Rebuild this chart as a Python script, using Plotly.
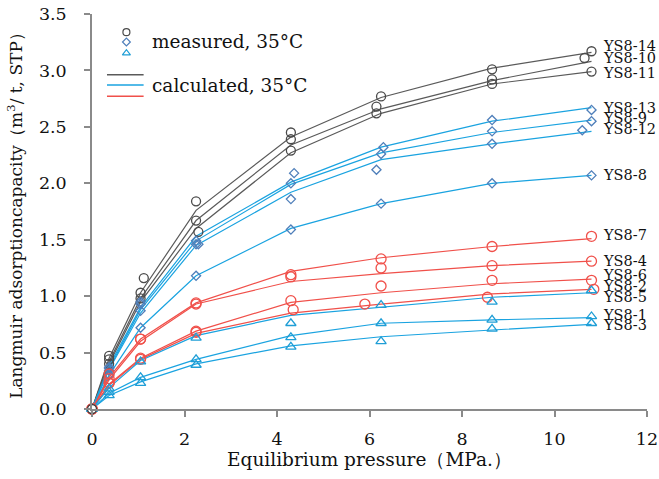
import plotly.graph_objects as go

# ---------------- data ----------------
series_names = ["YS8-14", "YS8-10", "YS8-11", "YS8-13", "YS8-9", "YS8-12", "YS8-8",
                "YS8-7", "YS8-4", "YS8-6", "YS8-2", "YS8-5", "YS8-1", "YS8-3"]
series_group = ["gray", "gray", "gray", "blue", "blue", "blue", "blue",
                "red", "red", "red", "red", "tri", "tri", "tri"]

pressure = [0, 0.37, 1.05, 2.25, 4.3, 6.25, 8.65, 10.8]

# calculated (Langmuir fit) values read at each pressure
calc_ys8_14 = [0, 0.45, 1.03, 1.76, 2.41, 2.76, 3.02, 3.16]
calc_ys8_10 = [0, 0.42, 0.98, 1.67, 2.34, 2.66, 2.91, 3.08]
calc_ys8_11 = [0, 0.40, 0.95, 1.60, 2.27, 2.62, 2.88, 2.99]
calc_ys8_13 = [0, 0.38, 0.90, 1.53, 2.01, 2.32, 2.55, 2.67]
calc_ys8_9 = [0, 0.36, 0.88, 1.49, 1.99, 2.27, 2.45, 2.56]
calc_ys8_12 = [0, 0.35, 0.85, 1.45, 1.92, 2.21, 2.35, 2.46]
calc_ys8_8 = [0, 0.30, 0.72, 1.18, 1.60, 1.82, 2.00, 2.07]
calc_ys8_7 = [0, 0.28, 0.62, 0.94, 1.22, 1.34, 1.44, 1.51]
calc_ys8_4 = [0, 0.26, 0.60, 0.93, 1.13, 1.20, 1.27, 1.31]
calc_ys8_6 = [0, 0.22, 0.45, 0.69, 0.945, 1.03, 1.11, 1.15]
calc_ys8_2 = [0, 0.21, 0.44, 0.67, 0.85, 0.93, 1.02, 1.06]
calc_ys8_5 = [0, 0.19, 0.43, 0.65, 0.83, 0.90, 0.99, 1.03]
calc_ys8_1 = [0, 0.14, 0.28, 0.44, 0.65, 0.76, 0.79, 0.81]
calc_ys8_3 = [0, 0.12, 0.24, 0.40, 0.56, 0.64, 0.70, 0.75]

# measured pressures (most series share the common grid)
p_meas_ys8_14 = [0, 0.37, 1.12, 2.25, 4.3, 6.25, 8.65, 10.8]
p_meas_ys8_10 = [0, 0.37, 1.05, 2.25, 4.3, 6.15, 8.65, 10.65]
p_meas_ys8_11 = [0, 0.37, 1.05, 2.3, 4.3, 6.15, 8.65, 10.8]
p_meas_ys8_13 = [0, 0.37, 1.05, 2.25, 4.37, 6.3, 8.65, 10.8]
p_meas_ys8_12 = [0, 0.37, 1.05, 2.3, 4.3, 6.15, 8.65, 10.6]
p_meas_ys8_2 = [0, 0.37, 1.05, 2.25, 4.35, 5.9, 8.55, 10.85]

# measured values
meas_ys8_14 = [0, 0.47, 1.16, 1.84, 2.45, 2.77, 3.01, 3.17]
meas_ys8_10 = [0, 0.44, 1.03, 1.67, 2.39, 2.68, 2.92, 3.11]
meas_ys8_11 = [0, 0.40, 0.98, 1.57, 2.29, 2.62, 2.88, 2.99]
meas_ys8_13 = [0, 0.37, 0.95, 1.49, 2.09, 2.32, 2.56, 2.65]
meas_ys8_9 = [0, 0.36, 0.93, 1.46, 2.00, 2.26, 2.46, 2.55]
meas_ys8_12 = [0, 0.34, 0.87, 1.46, 1.86, 2.12, 2.35, 2.47]
meas_ys8_8 = [0, 0.30, 0.72, 1.18, 1.59, 1.82, 2.00, 2.07]
meas_ys8_7 = [0, 0.31, 0.62, 0.94, 1.19, 1.33, 1.44, 1.53]
meas_ys8_4 = [0, 0.27, 0.62, 0.93, 1.17, 1.25, 1.27, 1.31]
meas_ys8_6 = [0, 0.23, 0.45, 0.69, 0.96, 1.09, 1.14, 1.14]
meas_ys8_2 = [0, 0.23, 0.44, 0.68, 0.88, 0.93, 0.99, 1.06]
meas_ys8_5 = [0, 0.18, 0.42, 0.63, 0.76, 0.92, 0.95, 1.05]
meas_ys8_1 = [0, 0.15, 0.28, 0.44, 0.635, 0.76, 0.79, 0.82]
meas_ys8_3 = [0, 0.12, 0.23, 0.39, 0.55, 0.60, 0.71, 0.76]

# series label positions (data units)
label_x = 11.0
label_y = [3.22, 3.11, 2.98, 2.67, 2.58, 2.48, 2.07,
           1.54, 1.31, 1.19, 1.09, 0.995, 0.83, 0.74]

x_ticks = [0, 2, 4, 6, 8, 10, 12]
y_ticks = [0.0, 0.5, 1.0, 1.5, 2.0, 2.5, 3.0, 3.5]

calc_all = [calc_ys8_14, calc_ys8_10, calc_ys8_11, calc_ys8_13, calc_ys8_9, calc_ys8_12, calc_ys8_8,
            calc_ys8_7, calc_ys8_4, calc_ys8_6, calc_ys8_2, calc_ys8_5, calc_ys8_1, calc_ys8_3]
meas_all = [meas_ys8_14, meas_ys8_10, meas_ys8_11, meas_ys8_13, meas_ys8_9, meas_ys8_12, meas_ys8_8,
            meas_ys8_7, meas_ys8_4, meas_ys8_6, meas_ys8_2, meas_ys8_5, meas_ys8_1, meas_ys8_3]
p_meas_all = [p_meas_ys8_14, p_meas_ys8_10, p_meas_ys8_11, p_meas_ys8_13, pressure, p_meas_ys8_12, pressure,
              pressure, pressure, pressure, p_meas_ys8_2, pressure, pressure, pressure]

# ---------------- styles ----------------
FONT = "DejaVu Serif"
line_color = {"gray": "#5a5a5a", "blue": "#1aa3e0", "red": "#f0504a", "tri": "#1aa3e0"}
mark_color = {"gray": "#4a4a4a", "blue": "#4f7fba", "red": "#f0504a", "tri": "#1f9ed6"}
mark_symbol = {"gray": "circle", "blue": "diamond", "red": "circle", "tri": "triangle-up"}
mark_size = {"gray": 9, "blue": 7, "red": 10, "tri": 9}

fig = go.Figure()

for name, grp, cv in zip(series_names, series_group, calc_all):
    fig.add_trace(go.Scatter(x=pressure, y=cv, mode="lines", name=name + " calc",
                             line=dict(color=line_color[grp], width=1.2),
                             showlegend=False, hoverinfo="skip"))

for name, grp, px, mv in zip(series_names, series_group, p_meas_all, meas_all):
    fig.add_trace(go.Scatter(x=px, y=mv, mode="markers", name=name,
                             marker=dict(symbol=mark_symbol[grp], size=mark_size[grp],
                                         color="rgba(255,255,255,0)",
                                         line=dict(color=mark_color[grp], width=1.3)),
                             showlegend=False, cliponaxis=False))

# origin point drawn white-filled on top
fig.add_trace(go.Scatter(x=[pressure[0]], y=[calc_all[0][0]], mode="markers",
                         marker=dict(symbol="circle", size=9, color="white",
                                     line=dict(color="#3a3a3a", width=1.3)),
                         showlegend=False, cliponaxis=False))

# legend symbols on an overlay paper-like axis
legend_marks = [("circle", "#4a4a4a", 7, 0.954), ("diamond", "#4f7fba", 6, 0.929), ("triangle-up", "#1f9ed6", 7, 0.901)]
for sym, col, sz, yy in legend_marks:
    fig.add_trace(go.Scatter(x=[0.062], y=[yy], xaxis="x2", yaxis="y2", mode="markers",
                             marker=dict(symbol=sym, size=sz, color="rgba(255,255,255,0)",
                                         line=dict(color=col, width=1.2)),
                             showlegend=False, hoverinfo="skip", cliponaxis=False))

shapes = []
for col, yy in [("#5a5a5a", 0.846), ("#1aa3e0", 0.82), ("#f0504a", 0.792)]:
    shapes.append(dict(type="line", xref="paper", yref="paper", x0=0.027, x1=0.093, y0=yy, y1=yy,
                       line=dict(color=col, width=1.5)))

annotations = [
    dict(x=0.105, y=0.930, xref="paper", yref="paper", text="measured, 35°C", showarrow=False,
         xanchor="left", yanchor="middle", font=dict(family=FONT, size=18.5, color="#111")),
    dict(x=0.105, y=0.820, xref="paper", yref="paper", text="calculated, 35°C", showarrow=False,
         xanchor="left", yanchor="middle", font=dict(family=FONT, size=18.5, color="#111")),
]
for name, ly in zip(series_names, label_y):
    annotations.append(dict(x=label_x, y=ly, xref="x", yref="y", text=name, showarrow=False,
                            xanchor="left", yanchor="middle",
                            font=dict(family=FONT, size=14.5, color="#111")))

fig.update_layout(
    width=659, height=479,
    margin=dict(l=92, r=12, t=14, b=70, autoexpand=False),
    paper_bgcolor="white", plot_bgcolor="white",
    font=dict(family=FONT, size=17, color="#111"),
    shapes=shapes, annotations=annotations,
    xaxis=dict(range=[0, 12], tickvals=x_ticks, ticktext=[str(v) for v in x_ticks],
               showgrid=False, zeroline=False, showline=True, linecolor="#8a8a8a", linewidth=1.5,
               ticks="outside", ticklen=6, tickcolor="#8a8a8a", tickwidth=1.5, automargin=False,
               ticklabelstandoff=7, ticklabeloverflow="allow",
               tickfont=dict(family=FONT, size=17.5),
               title=dict(text="Equilibrium pressure（MPa.）", font=dict(family=FONT, size=18.5), standoff=5)),
    yaxis=dict(range=[0, 3.5], tickvals=y_ticks, ticktext=[f"{v:.1f}" for v in y_ticks],
               showgrid=False, zeroline=False, showline=True, linecolor="#8a8a8a", linewidth=1.5,
               ticks="outside", ticklen=6, tickcolor="#8a8a8a", tickwidth=1.5, automargin=False,
               ticklabelstandoff=14, ticklabeloverflow="allow",
               tickfont=dict(family=FONT, size=17.5),
               title=dict(text="Langmuir adsorptioncapacity（m<sup>3</sup>/ t, STP）",
                          font=dict(family=FONT, size=17), standoff=12)),
    xaxis2=dict(range=[0, 1], overlaying="x", visible=False, fixedrange=True),
    yaxis2=dict(range=[0, 1], overlaying="y", visible=False, fixedrange=True),
    showlegend=False,
)

fig.write_html("out.html", config={"displayModeBar": False},
               post_script="document.body.style.margin='0';document.body.style.overflow='hidden';")
